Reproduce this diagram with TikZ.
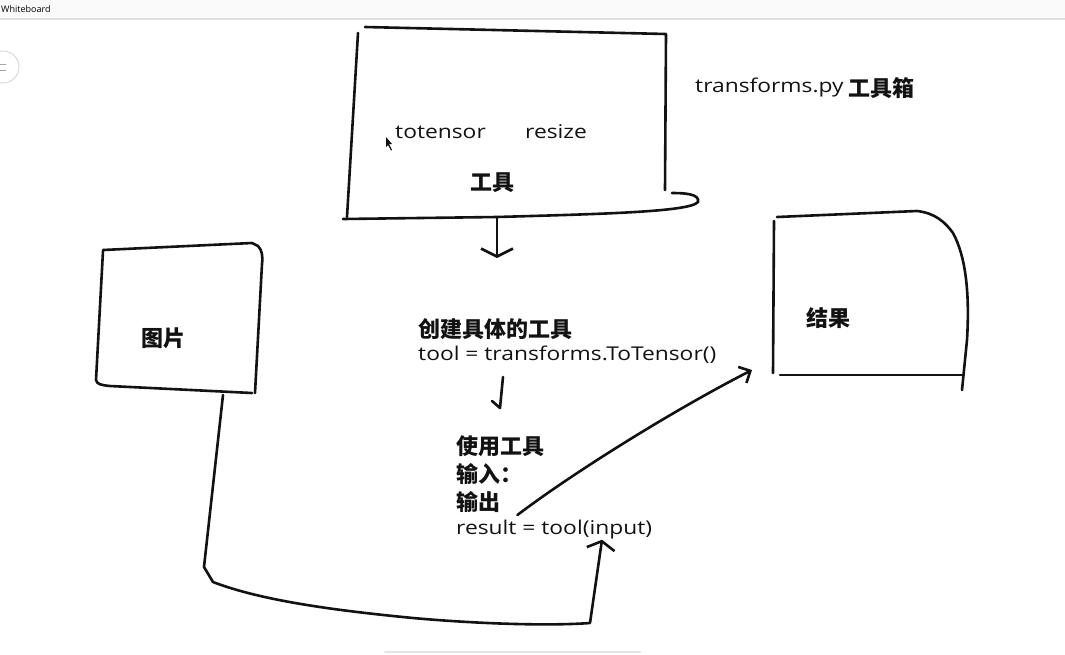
\documentclass[tikz,border=0pt]{standalone}
\usepackage{fontspec}
\setmainfont{Open Sans}
\newfontfamily\handfont{Open Sans}[FakeStretch=1.2]
\newfontfamily\cjk{Noto Sans CJK SC}
\usetikzlibrary{arrows.meta}

\definecolor{ink}{RGB}{18,18,18}
\tikzset{board/.style={x=1pt,y=-1pt,line cap=round,line join=round}}
\tikzset{pen/.style={ink,line width=2.6pt},
         hand/.style={ink,font=\handfont\fontsize{19}{21}\selectfont,anchor=west,inner sep=0pt},
         zh/.style={ink,font=\cjk\bfseries\fontsize{22}{24}\selectfont,inner sep=0pt},
         barb/.style={-{Straight Barb[length=8pt,width=32pt]}}}

\begin{document}
\begin{tikzpicture}[board]
    \useasboundingbox (0,0) rectangle (1065,654);
    % window frame
    \fill[gray!4] (0,0) rectangle (1065,18);
    \draw[gray!25,line width=2pt] (0,19) -- (1065,19);
    \node[font=\fontsize{9}{10}\selectfont,anchor=west,inner sep=0pt] (title) at (1,9) {Whiteboard};
    \draw[gray!30,line width=1pt] (3,67) circle (16pt);
    \draw[gray!70,line width=0.8pt] (-1,64) -- (6,64) (-1,70) -- (6,70);
    \draw[gray!20,line width=2pt] (385,652) -- (640,652);

    % tool box
    \draw[pen] (358,33) -- (347,217);
    \draw[pen] (365,27) -- (666,34) -- (665,190);
    \draw[pen] (343,219) -- (497,217) .. controls (600,214) and (690,212) .. (698,202)
               .. controls (700,194) and (685,193) .. (672,193);
    \fill[ink] (386,137) -- (392,144) -- (389,144) -- (392,150) -- (391,150.5) -- (388,145) -- (386,147) -- cycle;
    \node[hand] (totensor) at (395,132) {totensor};
    \node[hand] (resize) at (525,132) {resize};
    \node[zh] (tools) at (492,183) {工具};
    \node[hand] (tfpy) at (695,88) {transforms.py};
    \node[zh,anchor=west] (toolbox) at (848,88) {工具箱};

    % image box
    \draw[pen] (103,250) -- (252,243) -- (258,246) .. controls (262,250) and (263,256) .. (262,264) -- (255,393);
    \draw[pen] (103,251) -- (96,380) .. controls (97,384) and (100,385) .. (110,386) -- (252,393);
    \node[zh] (img) at (163,338) {图片};

    % result box
    \draw[pen] (774,221) -- (773,373);
    \draw[pen] (777,217) -- (917,211) .. controls (935,213) and (945,222) .. (953,233)
               .. controls (965,255) and (970,290) .. (967,340) -- (962,390);
    \draw[pen] (780,375) -- (963,375);
    \node[zh] (res) at (828,318) {结果};

    % steps
    \node[zh,anchor=west] (make) at (418,329) {创建具体的工具};
    \node[hand] (makecode) at (418,355) {tool = transforms.ToTensor()};
    \node[zh,anchor=west] (use) at (456,446) {使用工具};
    \node[zh,anchor=west] (inp) at (456,474) {输入：};
    \node[zh,anchor=west] (outp) at (456,502) {输出};
    \node[hand] (call) at (456,530) {result = tool(input)};

    \coordinate (tools-s) at (497,217);
    \coordinate (tools-d) at (497,258);
    \coordinate (img-s) at (223,395);
    \coordinate (res-w) at (752,370);
    \draw[pen,barb] (tools-s) -- (tools-d);
    \draw[pen] (makecode.south west) ++(85,13) -- ++(-3,31) -- ++(-8,-7);
    \draw[pen,-{Straight Barb[length=9pt,width=18pt]}] (outp.east) ++(17,13)
               .. controls (570,475) and (670,412) .. (res-w);
    \draw[pen,-{Straight Barb[length=8pt,width=28pt]}] (img-s) -- (204,567) -- (213,582)
               .. controls (260,600) and (330,610) .. (413,618)
               .. controls (480,624) and (550,626) .. (590,623) -- (call.south -| 602,0);
\end{tikzpicture}
\end{document}
